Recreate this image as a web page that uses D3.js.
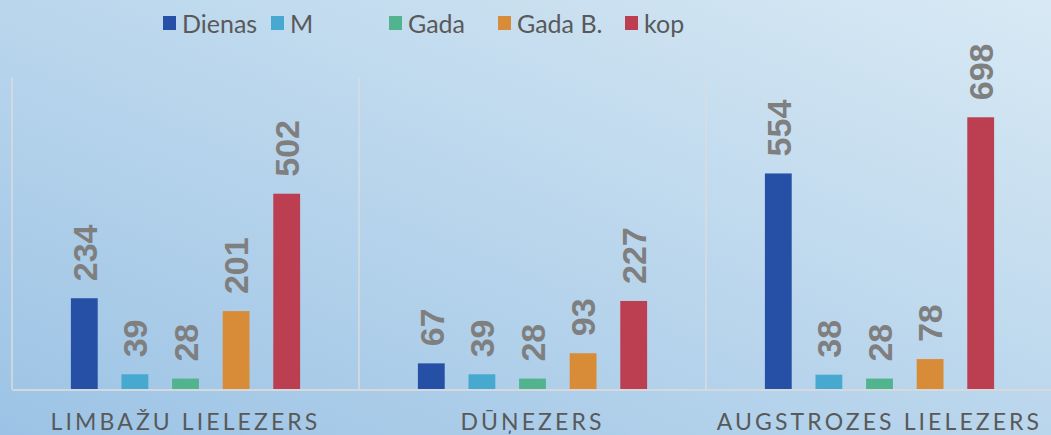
<!DOCTYPE html>
<html>
<head>
<meta charset="utf-8">
<script src="https://cdn.jsdelivr.net/npm/d3@7"></script>
<style>
  html, body { margin: 0; padding: 0; overflow: hidden; }
  svg { display: block; }
</style>
</head>
<body>
<svg id="chart" width="1051" height="435"></svg>
<script>
// ---- data ----
const categories = ["LIMBAŽU LIELEZERS", "DŪŅEZERS", "AUGSTROZES LIELEZERS"];
const seriesNames = ["Dienas", "M", "Gada", "Gada B.", "kop"];
const dienas = [234, 67, 554];
const m = [39, 39, 38];
const gada = [28, 28, 28];
const gadaB = [201, 93, 78];
const kop = [502, 227, 698];
const seriesValues = [dienas, m, gada, gadaB, kop];
const seriesColors = ["#2550a5", "#47a8d0", "#52b48e", "#d98c37", "#bb3e51"];
const legendX = [163, 271, 389, 498, 625];

// ---- layout ----
const W = 1051, H = 435;
const plotLeft = 12, catWidth = 347;
const plotTop = 77.5, plotBottom = 389.5;

const svg = d3.select("#chart");
const defs = svg.append("defs");
const grad = defs.append("linearGradient").attr("id", "bg")
  .attr("x1", "0").attr("y1", "1").attr("x2", "1").attr("y2", "0");
grad.append("stop").attr("offset", "0%").attr("stop-color", "#9cc3e5");
grad.append("stop").attr("offset", "100%").attr("stop-color", "#d8e9f4");
svg.append("rect").attr("width", W).attr("height", H).attr("fill", "url(#bg)");

const x0 = d3.scaleBand().domain(categories)
  .range([plotLeft, plotLeft + catWidth * categories.length])
  .paddingInner(0).paddingOuter(0);
const x1 = d3.scaleBand().domain(seriesNames)
  .range([0, x0.bandwidth()]).paddingInner(0.47).paddingOuter(1.164);
const y = d3.scaleLinear().domain([0, 800]).range([plotBottom, plotTop]);

// vertical separators
const seps = categories.map(c => x0(c)).concat([x0.range()[1]]);
svg.append("g").selectAll("line").data(seps).join("line")
  .attr("x1", d => d).attr("x2", d => d)
  .attr("y1", y(800)).attr("y2", y(0))
  .attr("stroke", "#d9dcdf").attr("stroke-width", 1.5);

// bars
const rows = [];
categories.forEach((c, ci) => {
  seriesNames.forEach((s, si) => {
    rows.push({ c, s, si, v: seriesValues[si][ci] });
  });
});

const g = svg.append("g");
g.selectAll("rect").data(rows).join("rect")
  .attr("x", d => x0(d.c) + x1(d.s))
  .attr("y", d => y(d.v))
  .attr("width", x1.bandwidth())
  .attr("height", d => y(0) - y(d.v))
  .attr("fill", d => seriesColors[d.si]);

// value labels
g.selectAll("text").data(rows).join("text")
  .attr("transform", d => `translate(${x0(d.c) + x1(d.s) + x1.bandwidth() / 2},${y(d.v) - 17}) rotate(-90)`)
  .attr("dy", "0.36em")
  .attr("text-anchor", "start")
  .attr("font-family", "'Liberation Sans', Arial, sans-serif")
  .attr("font-weight", "bold")
  .attr("font-size", 34)
  .attr("fill", "#7f7f7f")
  .text(d => d.v);

// baseline axis
const xAxis = d3.axisBottom(x0).tickSize(0).tickPadding(0);
const axG = svg.append("g").attr("transform", `translate(0,${plotBottom})`).call(xAxis);
axG.select(".domain").attr("stroke", "#d5d9dd").attr("stroke-width", 2);
axG.selectAll(".tick text")
  .attr("y", 40.5).attr("dy", 0)
  .attr("font-family", "Lato, 'Open Sans', sans-serif")
  .attr("font-size", 23)
  .attr("letter-spacing", "3.1px")
  .attr("fill", "#595959");

// legend
const leg = svg.append("g");
const li = leg.selectAll("g").data(seriesNames).join("g")
  .attr("transform", (d, i) => `translate(${legendX[i]},0)`);
li.append("rect").attr("x", 0).attr("y", 16).attr("width", 13).attr("height", 14)
  .attr("fill", (d, i) => seriesColors[i]);
li.append("text").attr("x", 19).attr("y", 33)
  .attr("font-family", "Lato, 'Open Sans', sans-serif")
  .attr("font-size", 25)
  .attr("fill", "#595959")
  .text(d => d);
</script>
</body>
</html>
